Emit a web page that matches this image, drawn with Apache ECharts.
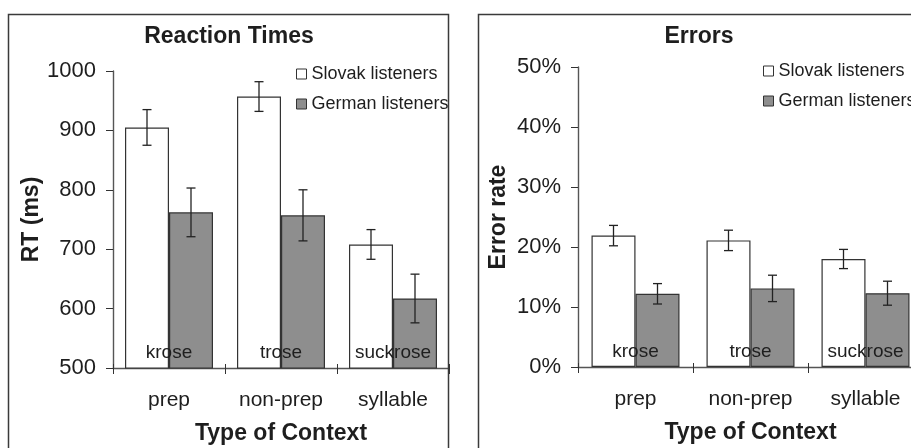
<!DOCTYPE html>
<html>
<head>
<meta charset="utf-8">
<script src="https://cdn.jsdelivr.net/npm/echarts@6/dist/echarts.min.js"></script>
<style>
html,body{margin:0;padding:0;background:#fff;}
#chart{width:911px;height:448px;}
</style>
</head>
<body>
<div id="chart"></div>
<script>
// ---- data ----
const categories = ['prep', 'non-prep', 'syllable'];
const contextWords = ['krose', 'trose', 'suckrose'];
const seriesNames = ['Slovak listeners', 'German listeners'];

const rtSlovak = [905, 957, 708];
const rtSlovakErr = [30, 25, 25];
const rtGerman = [762, 757, 617];
const rtGermanErr = [41, 43, 41];

const errSlovak = [21.9, 21.1, 18.0];
const errSlovakErr = [1.7, 1.7, 1.6];
const errGerman = [12.2, 13.1, 12.3];
const errGermanErr = [1.7, 2.2, 2.0];

const rtAxis = { min: 500, max: 1000, interval: 100 };
const errAxis = { min: 0, max: 50, interval: 10 };

// ---- styles ----
const FONT = "'Liberation Sans', Arial, sans-serif";
const TXT = '#1e1e1e';
const AXIS = '#555';
const BAR_W = 44;

const chart = echarts.init(document.getElementById('chart'), null, { renderer: 'canvas' });

function errData(vals, errs) {
  return categories.map((c, i) => [i, vals[i] - errs[i], vals[i] + errs[i]]);
}

function errSeries(xi, vals, errs, offset) {
  return {
    type: 'custom',
    xAxisIndex: xi, yAxisIndex: xi,
    z: 5,
    silent: true,
    encode: { x: 0, y: [1, 2] },
    data: errData(vals, errs),
    renderItem: function (params, api) {
      const lo = api.coord([api.value(0), api.value(1)]);
      const hi = api.coord([api.value(0), api.value(2)]);
      const x = lo[0] + offset;
      const st = { stroke: '#222', lineWidth: 1.3 };
      return {
        type: 'group',
        children: [
          { type: 'line', shape: { x1: x, y1: lo[1], x2: x, y2: hi[1] }, style: st },
          { type: 'line', shape: { x1: x - 4.5, y1: lo[1], x2: x + 4.5, y2: lo[1] }, style: st },
          { type: 'line', shape: { x1: x - 4.5, y1: hi[1], x2: x + 4.5, y2: hi[1] }, style: st }
        ]
      };
    }
  };
}

function wordSeries(xi, axisMin) {
  return {
    type: 'custom',
    xAxisIndex: xi, yAxisIndex: xi,
    z: 6,
    silent: true,
    encode: { x: 0, y: 1 },
    data: contextWords.map((w, i) => [i, axisMin]),
    renderItem: function (params, api) {
      const p = api.coord([api.value(0), api.value(1)]);
      return {
        type: 'text',
        x: p[0], y: p[1] - 6,
        style: {
          text: contextWords[params.dataIndex],
          align: 'center', verticalAlign: 'bottom',
          fontFamily: FONT, fontSize: 19, fill: TXT
        }
      };
    }
  };
}

function barSeries(xi, name, vals, color) {
  return {
    type: 'bar',
    name: name,
    xAxisIndex: xi, yAxisIndex: xi,
    barWidth: BAR_W,
    barGap: '0%',
    z: 2,
    itemStyle: { color: color, borderColor: '#333', borderWidth: 1.2 },
    data: vals
  };
}

function xAxisCfg(gi) {
  return {
    type: 'category',
    gridIndex: gi,
    data: categories,
    axisLine: { show: true, lineStyle: { color: AXIS, width: 1.4 } },
    axisTick: { show: true, length: 6, lineStyle: { color: '#333' } },
    axisLabel: { margin: 22, fontFamily: FONT, fontSize: 21, color: TXT },
    splitLine: { show: false },
    name: 'Type of Context',
    nameLocation: 'middle',
    nameGap: 54,
    nameMoveOverlap: false,
    nameTextStyle: { fontFamily: FONT, fontSize: 23, fontWeight: 'bold', color: TXT }
  };
}

// companion axis: draws the inner half of the crossing category ticks
function xAxisInnerTicks(gi) {
  return {
    type: 'category',
    gridIndex: gi,
    position: 'bottom',
    data: categories,
    axisLine: { show: false },
    axisTick: { show: true, inside: true, length: 4, lineStyle: { color: '#333' } },
    axisLabel: { show: false },
    splitLine: { show: false }
  };
}

function yAxisCfg(gi, ax, name, gap, fmt) {
  return {
    type: 'value',
    gridIndex: gi,
    min: ax.min, max: ax.max, interval: ax.interval,
    axisLine: { show: true, lineStyle: { color: AXIS, width: 1.4 } },
    axisTick: { show: true, length: 7, lineStyle: { color: '#333' } },
    axisLabel: { margin: 17, fontFamily: FONT, fontSize: 22, color: TXT, formatter: fmt },
    splitLine: { show: false },
    name: name,
    nameLocation: 'middle',
    nameGap: gap,
    nameRotate: 90,
    nameMoveOverlap: false,
    nameTextStyle: { fontFamily: FONT, fontSize: 23, fontWeight: 'bold', color: TXT }
  };
}

function legendCfg(left, top) {
  return {
    orient: 'vertical',
    left: left, top: top,
    itemWidth: 10, itemHeight: 10,
    itemGap: 12,
    icon: 'rect',
    selectedMode: false,
    itemStyle: { borderColor: '#333', borderWidth: 1 },
    textStyle: { fontFamily: FONT, fontSize: 18, lineHeight: 18, color: TXT },
    data: seriesNames
  };
}

const option = {
  animation: false,
  backgroundColor: '#fff',
  grid: [
    { left: 113, top: 71, width: 336, height: 297, outerBoundsMode: 'none', containLabel: false },
    { left: 578, top: 67, width: 345, height: 300, outerBoundsMode: 'none', containLabel: false }
  ],
  xAxis: [xAxisCfg(0), xAxisCfg(1), xAxisInnerTicks(0), xAxisInnerTicks(1)],
  yAxis: [
    yAxisCfg(0, rtAxis, 'RT (ms)', 70, function (v) { return String(v); }),
    yAxisCfg(1, errAxis, 'Error rate', 68, function (v) { return v + '%'; })
  ],
  legend: [legendCfg(291, 60), legendCfg(758, 57)],
  graphic: [
    { type: 'rect', shape: { x: 8.5, y: 14.5, width: 440, height: 500 }, style: { fill: 'none', stroke: '#3a3a3a', lineWidth: 1.5 }, z: 100 },
    { type: 'rect', shape: { x: 478.5, y: 14.5, width: 500, height: 500 }, style: { fill: 'none', stroke: '#3a3a3a', lineWidth: 1.5 }, z: 100 },
    { type: 'text', x: 229, y: 37, style: { text: 'Reaction Times', align: 'center', verticalAlign: 'middle', fontFamily: FONT, fontSize: 23, fontWeight: 'bold', fill: TXT }, z: 100 },
    { type: 'text', x: 699, y: 37, style: { text: 'Errors', align: 'center', verticalAlign: 'middle', fontFamily: FONT, fontSize: 23, fontWeight: 'bold', fill: TXT }, z: 100 }
  ],
  series: [
    barSeries(0, seriesNames[0], rtSlovak, '#ffffff'),
    barSeries(0, seriesNames[1], rtGerman, '#8e8e8e'),
    errSeries(0, rtSlovak, rtSlovakErr, -BAR_W / 2),
    errSeries(0, rtGerman, rtGermanErr, BAR_W / 2),
    wordSeries(0, rtAxis.min),
    barSeries(1, seriesNames[0], errSlovak, '#ffffff'),
    barSeries(1, seriesNames[1], errGerman, '#8e8e8e'),
    errSeries(1, errSlovak, errSlovakErr, -BAR_W / 2),
    errSeries(1, errGerman, errGermanErr, BAR_W / 2),
    wordSeries(1, errAxis.min)
  ]
};

chart.setOption(option);
</script>
</body>
</html>
